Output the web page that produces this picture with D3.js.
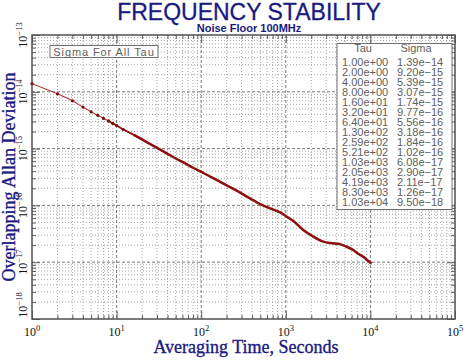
<!DOCTYPE html>
<html><head><meta charset="utf-8">
<script src="https://cdn.jsdelivr.net/npm/d3@7"></script>
<style>body{margin:0;background:#fff}</style></head>
<body><svg id="c" width="474" height="360"></svg>
<script>
const title = "FREQUENCY STABILITY";
const subtitle = "Noise Floor 100MHz";
const xTitle = "Averaging Time, Seconds";
const yTitle = "Overlapping Allan Deviation";
const legendText = "Sigma For All Tau";
const tableHeaders = ["Tau", "Sigma"];
const xDecades = [0, 1, 2, 3, 4, 5];
const yDecades = [-18, -17, -16, -15, -14, -13];

// curve (tau in seconds, overlapping Allan deviation)
const tau = [1, 2, 3, 4, 5, 6, 7, 8, 9, 10, 12, 16, 20, 25, 32, 40, 50, 64, 80, 100,
  130, 160, 200, 259, 377, 521, 700, 935, 1030, 1250, 1610, 2050, 2773, 3400, 4190,
  5248, 6281, 7100, 7880, 8300, 9200, 10300];
const sigma = [1.39e-14, 9.20e-15, 6.95e-15, 5.39e-15, 4.45e-15, 3.85e-15, 3.40e-15,
  3.07e-15, 2.78e-15, 2.55e-15, 2.17e-15, 1.74e-15, 1.45e-15, 1.20e-15, 9.77e-16,
  8.1e-16, 6.7e-16, 5.56e-16, 4.6e-16, 3.9e-16, 3.18e-16, 2.7e-16, 2.25e-16, 1.84e-16,
  1.33e-16, 1.02e-16, 8.5e-17, 7.0e-17, 6.3e-17, 5.2e-17, 3.69e-17, 2.90e-17,
  2.30e-17, 2.17e-17, 2.11e-17, 1.87e-17, 1.64e-17, 1.42e-17, 1.30e-17, 1.24e-17,
  1.08e-17, 9.50e-18];

// table in the upper right
const tableTau = [1, 2, 4, 8, 16, 32, 64, 130, 259, 521, 1030, 2050, 4190, 8300, 10300];
const tableSigma = [1.39e-14, 9.20e-15, 5.39e-15, 3.07e-15, 1.74e-15, 9.77e-16, 5.56e-16,
  3.18e-16, 1.84e-16, 1.02e-16, 6.08e-17, 2.90e-17, 2.11e-17, 1.26e-17, 9.50e-18];

const svg = d3.select("#c");
const L = 32, R = 455, T = 35, B = 319;
const x = d3.scaleLog().domain([1, 1e5]).range([L, R]);
const y = d3.scaleLog().domain([1e-18, 1e-13]).range([B, T]);

const navy = "#1a1a80";
const serif = "'Liberation Serif','Times New Roman',serif";
const sans = "'Liberation Sans',Arial,sans-serif";

// titles
svg.append("text").attr("x", 249).attr("y", 19.5).attr("text-anchor", "middle")
  .attr("font-family", sans).attr("font-size", 23).attr("fill", navy)
  .attr("stroke", navy).attr("stroke-width", 0.3).text(title);
svg.append("text").attr("x", 249).attr("y", 31.5).attr("text-anchor", "middle")
  .attr("font-family", sans).attr("font-weight", "bold").attr("font-size", 11)
  .attr("fill", navy).text(subtitle);

// grid values
const xMajor = xDecades.map(d => Math.pow(10, d));
const yMajor = yDecades.map(d => Math.pow(10, d));
const xMinor = [], yMinor = [];
xDecades.slice(0, -1).forEach(d => { for (let m = 2; m <= 9; m++) xMinor.push(m * Math.pow(10, d)); });
yDecades.slice(0, -1).forEach(d => { for (let m = 2; m <= 9; m++) yMinor.push(m * Math.pow(10, d)); });

const grid = svg.append("g");
grid.selectAll(".vx").data(xMinor).join("line")
  .attr("x1", d => x(d)).attr("x2", d => x(d)).attr("y1", T).attr("y2", B)
  .attr("stroke", "#a8a8a8").attr("stroke-width", 1).attr("stroke-dasharray", "1,2");
grid.selectAll(".hy").data(yMinor).join("line")
  .attr("y1", d => y(d)).attr("y2", d => y(d)).attr("x1", L).attr("x2", R)
  .attr("stroke", "#a8a8a8").attr("stroke-width", 1).attr("stroke-dasharray", "1,2");
grid.selectAll(".vX").data(xMajor.slice(1, -1)).join("line")
  .attr("x1", d => x(d)).attr("x2", d => x(d)).attr("y1", T).attr("y2", B)
  .attr("stroke", "#7a7a7a").attr("stroke-width", 1).attr("stroke-dasharray", "3,2");
grid.selectAll(".hY").data(yMajor.slice(1, -1)).join("line")
  .attr("y1", d => y(d)).attr("y2", d => y(d)).attr("x1", L).attr("x2", R)
  .attr("stroke", "#7a7a7a").attr("stroke-width", 1).attr("stroke-dasharray", "3,2");

// inward ticks on all sides via d3 axes
function tickAxis(axisFn, scale, vals, size, tr) {
  const g = svg.append("g").attr("transform", tr)
    .call(axisFn(scale).tickValues(vals).tickSize(-size).tickFormat(""));
  g.select(".domain").remove();
  g.selectAll("line").attr("stroke", "#606060");
}
tickAxis(d3.axisBottom, x, xMinor, 4, `translate(0,${B})`);
tickAxis(d3.axisBottom, x, xMajor, 8, `translate(0,${B})`);
tickAxis(d3.axisTop, x, xMinor, 4, `translate(0,${T})`);
tickAxis(d3.axisTop, x, xMajor, 8, `translate(0,${T})`);
tickAxis(d3.axisLeft, y, yMinor, 4, `translate(${L},0)`);
tickAxis(d3.axisLeft, y, yMajor, 8, `translate(${L},0)`);
tickAxis(d3.axisRight, y, yMinor, 4, `translate(${R},0)`);
tickAxis(d3.axisRight, y, yMajor, 8, `translate(${R},0)`);

// frame
svg.append("rect").attr("x", L).attr("y", T).attr("width", R - L).attr("height", B - T)
  .attr("fill", "none").attr("stroke", "#505050").attr("stroke-width", 1.5);

// tick labels
xDecades.forEach(d => {
  const t = svg.append("text").attr("x", x(Math.pow(10, d))).attr("y", 336)
    .attr("text-anchor", "middle").attr("font-family", serif).attr("font-size", 12).attr("fill", "#111");
  t.append("tspan").text("10");
  t.append("tspan").attr("dy", -5).attr("font-size", 8.5).text(d);
});
yDecades.forEach((d, i) => {
  const off = i === 0 ? -14 : 0;
  const g = svg.append("g").attr("transform", `translate(27,${y(Math.pow(10, d)) + off}) rotate(-90)`);
  const t = g.append("text").attr("text-anchor", "middle").attr("font-family", serif)
    .attr("font-size", 12).attr("fill", "#111");
  t.append("tspan").text("10");
  t.append("tspan").attr("dy", -5).attr("font-size", 8.5).text("\u2212" + Math.abs(d));
});

// axis titles
svg.append("text").attr("x", 246).attr("y", 353).attr("text-anchor", "middle")
  .attr("font-family", serif).attr("font-size", 18).attr("fill", navy)
  .attr("stroke", navy).attr("stroke-width", 0.35).text(xTitle);
svg.append("text").attr("transform", `translate(15,${(T + B) / 2}) rotate(-90)`)
  .attr("text-anchor", "middle").attr("font-family", serif).attr("font-size", 18)
  .attr("fill", navy).attr("stroke", navy).attr("stroke-width", 0.35).text(yTitle);

// data curve
const pts = tau.map((t, i) => [t, sigma[i]]);
const line = d3.line().x(d => x(d[0])).y(d => y(d[1])).curve(d3.curveMonotoneX);
svg.append("path").attr("d", line(pts)).attr("fill", "none")
  .attr("stroke", "#b03a3a").attr("stroke-width", 1.1);
svg.append("path").attr("d", line(pts.filter(d => d[0] >= 8 && d[0] <= 20)))
  .attr("fill", "none").attr("stroke", "#951818").attr("stroke-width", 1.8);
svg.append("path").attr("d", line(pts.filter(d => d[0] >= 16)))
  .attr("fill", "none").attr("stroke", "#8e1010").attr("stroke-width", 2.5)
  .attr("stroke-linejoin", "round");
svg.selectAll(".pt").data(pts.filter(d => d[0] <= 12)).join("circle")
  .attr("cx", d => x(d[0])).attr("cy", d => y(d[1])).attr("r", 1.6).attr("fill", "#7a1010");

// legend box
const gray = "#606060";
svg.append("rect").attr("x", 50).attr("y", 45.5).attr("width", 108).attr("height", 12)
  .attr("fill", "#fff").attr("stroke", "#707070").attr("stroke-width", 1);
svg.append("text").attr("x", 104).attr("y", 55.5).attr("text-anchor", "middle")
  .attr("font-family", sans).attr("font-size", 11).attr("letter-spacing", 0.9)
  .attr("fill", gray).text(legendText);

// table
const fmt = v => {
  const s = v.toExponential(2);
  const [m, e] = s.split("e");
  const sign = e[0] === "-" ? "\u2212" : "+";
  const digits = e.replace(/^[+-]/, "").padStart(2, "0");
  return m + "e" + sign + digits;
};
svg.append("rect").attr("x", 337).attr("y", 43.5).attr("width", 115).attr("height", 166)
  .attr("fill", "#fff").attr("stroke", "#707070").attr("stroke-width", 1);
svg.append("text").attr("x", 363).attr("y", 52).attr("text-anchor", "middle")
  .attr("font-family", sans).attr("font-size", 11).attr("fill", gray).text(tableHeaders[0]);
svg.append("text").attr("x", 416).attr("y", 52).attr("text-anchor", "middle")
  .attr("font-family", sans).attr("font-size", 11).attr("fill", gray).text(tableHeaders[1]);
tableTau.forEach((t, i) => {
  svg.append("text").attr("x", 342).attr("y", 66 + i * 10).attr("font-family", sans)
    .attr("font-size", 11).attr("fill", gray).text(fmt(t));
  svg.append("text").attr("x", 397).attr("y", 66 + i * 10).attr("font-family", sans)
    .attr("font-size", 11).attr("fill", gray).text(fmt(tableSigma[i]));
});
</script></body></html>
